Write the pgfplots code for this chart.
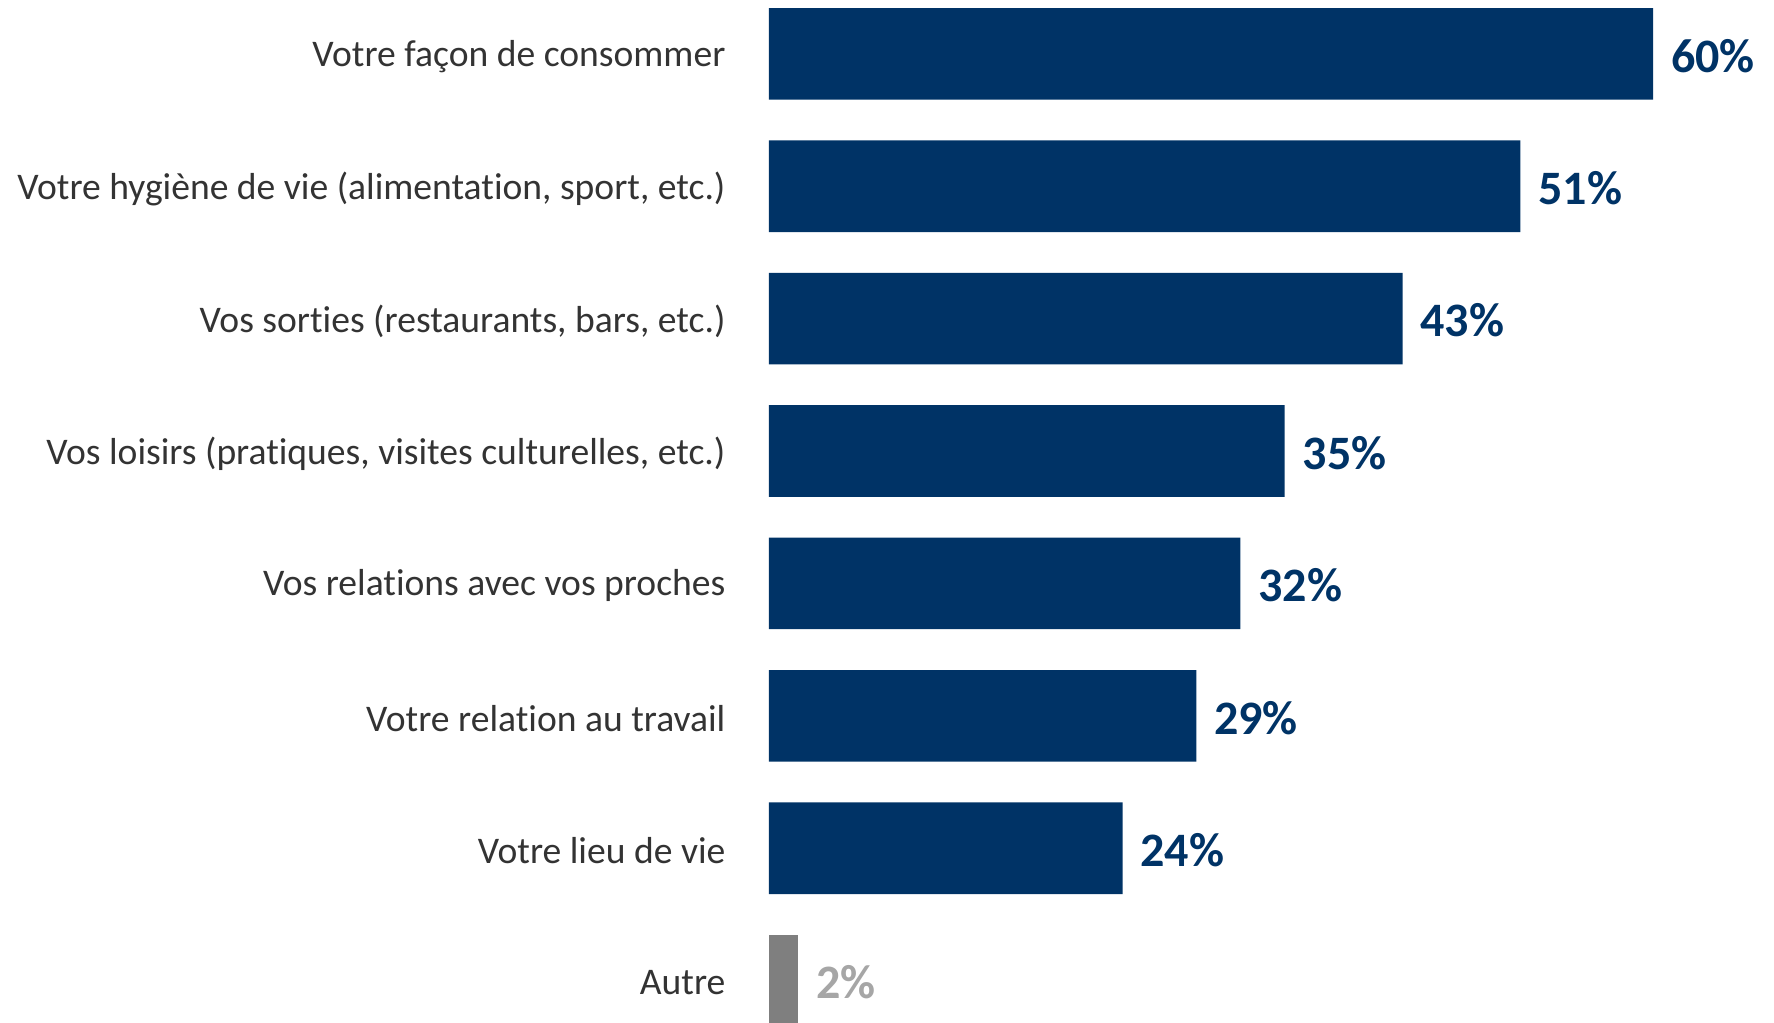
\documentclass[border=0pt]{standalone}
\usepackage{pgfplots}
\pgfplotsset{compat=1.18}
\usepackage{fontspec}
\setmainfont[Ligatures=NoCommon]{Carlito}
\definecolor{navy}{HTML}{003366}
\definecolor{txt}{HTML}{333333}
\definecolor{barg}{HTML}{7F7F7F}
\definecolor{labg}{HTML}{A6A6A6}
\begin{document}
\begin{tikzpicture}
\begin{axis}[
  scale only axis,
  width=221pt, height=264.8pt,
  xmin=0, xmax=60,
  ymin=-0.5, ymax=7.5,
  y dir=reverse,
  xbar, bar width=22.9pt, bar shift=0pt,
  axis line style={draw=none},
  tick style={draw=none},
  major tick length=0pt,
  xtick=\empty,
  ytick={0,1,2,3,4,5,6,7},
  yticklabels={Votre façon de consommer,
    {Votre hygiène de vie (alimentation, sport, etc.)},
    {Vos sorties (restaurants, bars, etc.)},
    {Vos loisirs (pratiques, visites culturelles, etc.)},
    Vos relations avec vos proches,
    Votre relation au travail,
    Votre lieu de vie,
    Autre},
  yticklabel style={anchor=east, inner sep=0pt, xshift=-10.7pt, yshift=-0.6pt, font=\fontsize{9.4}{11}\selectfont, text=txt},
  /pgf/number format/assume math mode=true,
  point meta=x,
  nodes near coords={\pgfmathprintnumber{\pgfplotspointmeta}\%},
  nodes near coords align={horizontal},
  every node near coord/.append style={anchor=west, inner sep=0pt, xshift=4.3pt, yshift=-0.5pt, font=\fontsize{12}{14}\bfseries\selectfont},
  clip=false,
]
\addplot[fill=navy, draw=none, every node near coord/.append style={text=navy}] coordinates {
  (60,0) (51,1) (43,2) (35,3) (32,4) (29,5) (24,6)};
\addplot[fill=barg, draw=none, every node near coord/.append style={text=labg}] coordinates {
  (2,7)};
\end{axis}
\pgfresetboundingbox
\path[use as bounding box] (-192.25pt,5.95pt) rectangle (251.25pt,261.7pt);
\end{tikzpicture}
\end{document}
